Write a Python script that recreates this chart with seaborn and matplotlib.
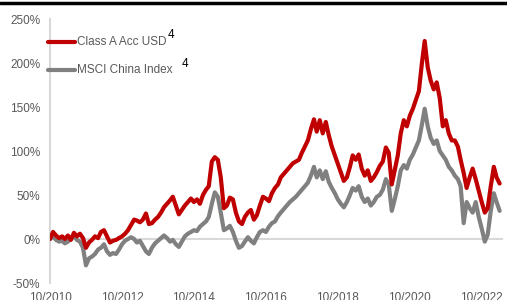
import matplotlib
matplotlib.use("Agg")
import matplotlib.pyplot as plt
from matplotlib.lines import Line2D
import pandas as pd
import seaborn as sns

# cumulative performance (%), monthly from 10/2010
class_a = [
    0, 8, 4, 1, 3, 0, 4, -1, 7, 3, 6, 1, -10, -4, -1, 3, 1, 8, 10, 3,
    -4, -2, -1, 1, 3, 6, 10, 16, 22, 21, 19, 22, 29, 17, 18, 22, 25, 30, 36, 40,
    44, 48, 38, 28, 33, 38, 42, 46, 42, 45, 40, 50, 56, 60, 88, 93, 90, 70, 35, 38,
    47, 45, 30, 20, 17, 25, 30, 33, 22, 27, 38, 48, 46, 43, 52, 58, 62, 70, 74, 78,
    82, 86, 88, 90, 98, 105, 112, 125, 136, 122, 135, 120, 133, 118, 105, 95, 85, 75, 66, 70,
    82, 95, 90, 96, 80, 72, 78, 66, 70, 76, 83, 88, 104, 98, 62, 78, 95, 120, 135, 128,
    140, 148, 158, 168, 200, 225, 195, 180, 170, 178, 160, 128, 135, 120, 112, 112, 105, 90, 75, 58,
    70, 80, 68, 55, 42, 30, 35, 60, 82, 70, 63,
]
msci_china = [
    0, 3, -1, -3, -2, -5, -3, 1, 3, -1, -3, -10, -30, -22, -20, -17, -12, -10, -6, -14,
    -18, -16, -17, -12, -6, -2, 0, 2, 0, -4, -2, -8, -14, -17, -10, -5, -2, 1, 4, 1,
    -3, -1, -6, -9, -3, 3, 6, 8, 10, 9, 14, 17, 20, 25, 40, 53, 48, 30, 10, 12,
    15, 8, -2, -10, -8, -3, 2, -2, -5, 2, 8, 10, 8, 14, 18, 20, 26, 30, 34, 38,
    42, 45, 48, 52, 56, 60, 64, 72, 82, 70, 78, 68, 77, 65, 58, 52, 45, 40, 36, 42,
    50, 58, 55, 60, 48, 42, 46, 38, 42, 48, 50, 56, 68, 62, 32, 45, 60, 78, 84, 80,
    90, 96, 104, 112, 130, 148, 128, 115, 108, 112, 100, 95, 90, 82, 78, 72, 68, 60, 18, 42,
    35, 30, 42, 25, 12, -3, 5, 32, 52, 42, 32,
]
series_names = ["Class A Acc USD", "MSCI China Index"]
tick_years = [2010, 2012, 2014, 2016, 2018, 2020, 2022]
y_ticks = [-50, 0, 50, 100, 150, 200, 250]

dates = pd.date_range("2010-10-01", periods=len(class_a), freq="MS")
df = pd.concat([
    pd.DataFrame({"date": dates, "value": class_a, "series": series_names[0]}),
    pd.DataFrame({"date": dates, "value": msci_china, "series": series_names[1]}),
])

RED = "#C00000"
GREY = "#808080"
AXIS = "#D9D9D9"
TXT = "#595959"

sns.set_style("white")
plt.rcParams["font.family"] = ["Liberation Sans", "DejaVu Sans"]

fig = plt.figure(figsize=(5.07, 3.0), dpi=100)
ax = fig.add_axes([50 / 507, 17 / 300, 452 / 507, 264 / 300])

sns.lineplot(
    data=df, x="date", y="value", hue="series",
    hue_order=series_names[::-1], palette={series_names[0]: RED, series_names[1]: GREY},
    linewidth=3.0, legend=False, ax=ax, zorder=3
)

ax.set_ylim(-50, 250)
ax.set_xlim(pd.Timestamp("2010-10-01"), pd.Timestamp("2023-04-25"))
ax.set_yticks(y_ticks)
ax.set_yticklabels([f"{v}%" for v in y_ticks], fontsize=8.5, color=TXT)
ax.set_xlabel("")
ax.set_ylabel("")

# x axis sits on the 0% line, labels at the bottom (cut by the figure edge, as in the source)
xt = [pd.Timestamp(f"{y}-10-01") for y in tick_years]
ax.set_xticks(xt)
ax.tick_params(axis="x", labelbottom=False, length=4, width=1.2, color=AXIS, direction="out")
ax.tick_params(axis="y", length=4, width=1.2, color=AXIS, pad=3)
ax.spines["bottom"].set_position(("data", 0))
for side in ["top", "right"]:
    ax.spines[side].set_visible(False)
for side in ["left", "bottom"]:
    ax.spines[side].set_color(AXIS)
    ax.spines[side].set_linewidth(1.5)
    ax.spines[side].set_zorder(1)

trans = ax.get_xaxis_transform()
for t, y in zip(xt, tick_years):
    ax.text(t, -0.034, f"10/{y}", transform=trans, ha="center", va="top",
            fontsize=8.5, color=TXT, clip_on=False)

# legend drawn by hand
for ypx, col, name, sx, sy in [(42, RED, series_names[0], 168, 35),
                               (70, GREY, series_names[1], 182, 64)]:
    yf = 1 - ypx / 300
    fig.add_artist(Line2D([48 / 507, 75 / 507], [yf, yf], color=col, lw=3.0))
    fig.text(77 / 507, yf, name, ha="left", va="center", fontsize=8.5, color=TXT)
    fig.text(sx / 507, 1 - sy / 300, "4", ha="left", va="center", fontsize=8.5, color="black")

# black rule at the top
fig.add_artist(Line2D([0, 1], [1 - 2.5 / 300, 1 - 2.5 / 300], color="black", lw=2.5))

fig.savefig("out.png", dpi=100)
